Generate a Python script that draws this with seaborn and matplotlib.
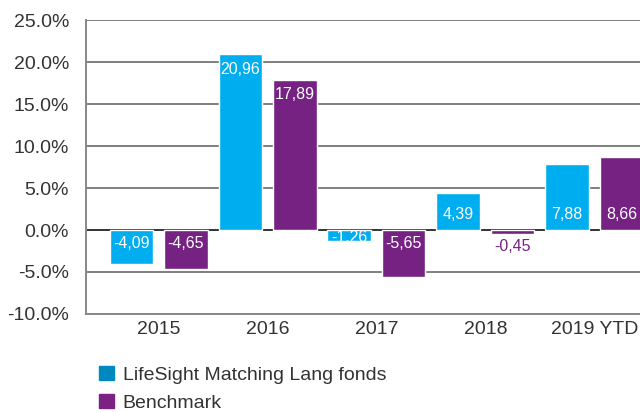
import numpy as np
import pandas as pd
import matplotlib
matplotlib.use('Agg')
import matplotlib.pyplot as plt
from matplotlib.patches import Patch
import seaborn as sns

years = ['2015', '2016', '2017', '2018', '2019 YTD']
fund = [-4.09, 20.96, -1.26, 4.39, 7.88]
bench = [-4.65, 17.89, -5.65, -0.45, 8.66]
series = ['LifeSight Matching Lang fonds', 'Benchmark']
yticks = [-10, -5, 0, 5, 10, 15, 20, 25]

cyan = '#00ADEE'
purple = '#752282'
txt = '#333333'

df = pd.DataFrame({
    'jaar': years * 2,
    'rendement': fund + bench,
    'serie': [series[0]] * len(years) + [series[1]] * len(years),
})

sns.set_theme(style='white')
plt.rcParams['font.family'] = ['Liberation Sans', 'DejaVu Sans']

fig = plt.figure(figsize=(6.4, 4.12), dpi=100)
ax = fig.add_axes([0.134, 0.238, 0.866, 0.713])

sns.barplot(data=df, x='jaar', y='rendement', hue='serie',
            palette=[cyan, purple], width=1.0, gap=0.2,
            saturation=1, legend=False, ax=ax, zorder=3)

ax.set_ylim(-10, 25)
ax.set_xlim(-0.67, 4.42)
ax.set_yticks(yticks)
ax.set_yticklabels([f'{t:.1f}%' for t in yticks])
ax.set_xlabel('')
ax.set_ylabel('')
ax.tick_params(axis='both', length=0, labelsize=14, colors=txt)
ax.tick_params(axis='x', pad=5)
ax.tick_params(axis='y', pad=12)

ax.grid(axis='y', color='#6a6a6a', linewidth=1.2)
ax.set_axisbelow(True)
ax.axhline(0, color='#2a2a2a', linewidth=1.2, zorder=1)
for s in ['top', 'right']:
    ax.spines[s].set_visible(False)
for s in ['left', 'bottom']:
    ax.spines[s].set_color('#888888')
    ax.spines[s].set_linewidth(1.4)

# value labels, Dutch decimal comma
for cont in ax.containers:
    for bar in cont:
        v = bar.get_height()
        if np.isnan(v):
            continue
        x = bar.get_x() + bar.get_width() / 2
        color = 'white'
        if v > 15:
            y = v - 1.8
        elif v > 0:
            y = 1.8
        elif v > -1:
            y = v - 1.5
            color = purple
        elif v > -2:
            y = -0.95
        else:
            y = -1.6
        ax.text(x, y, f'{v:.2f}'.replace('.', ','), ha='center', va='center',
                fontsize=11.5, color=color, zorder=4)

handles = [Patch(color='#0088BF'), Patch(color='#7A2182')]
fig.legend(handles, series, loc='upper left', bbox_to_anchor=(0.143, 0.13),
           frameon=False, fontsize=14, handlelength=0.75, handleheight=0.75,
           handletextpad=0.45, labelspacing=0.5, labelcolor=txt, borderaxespad=0)

fig.savefig('out.png', dpi=100)
